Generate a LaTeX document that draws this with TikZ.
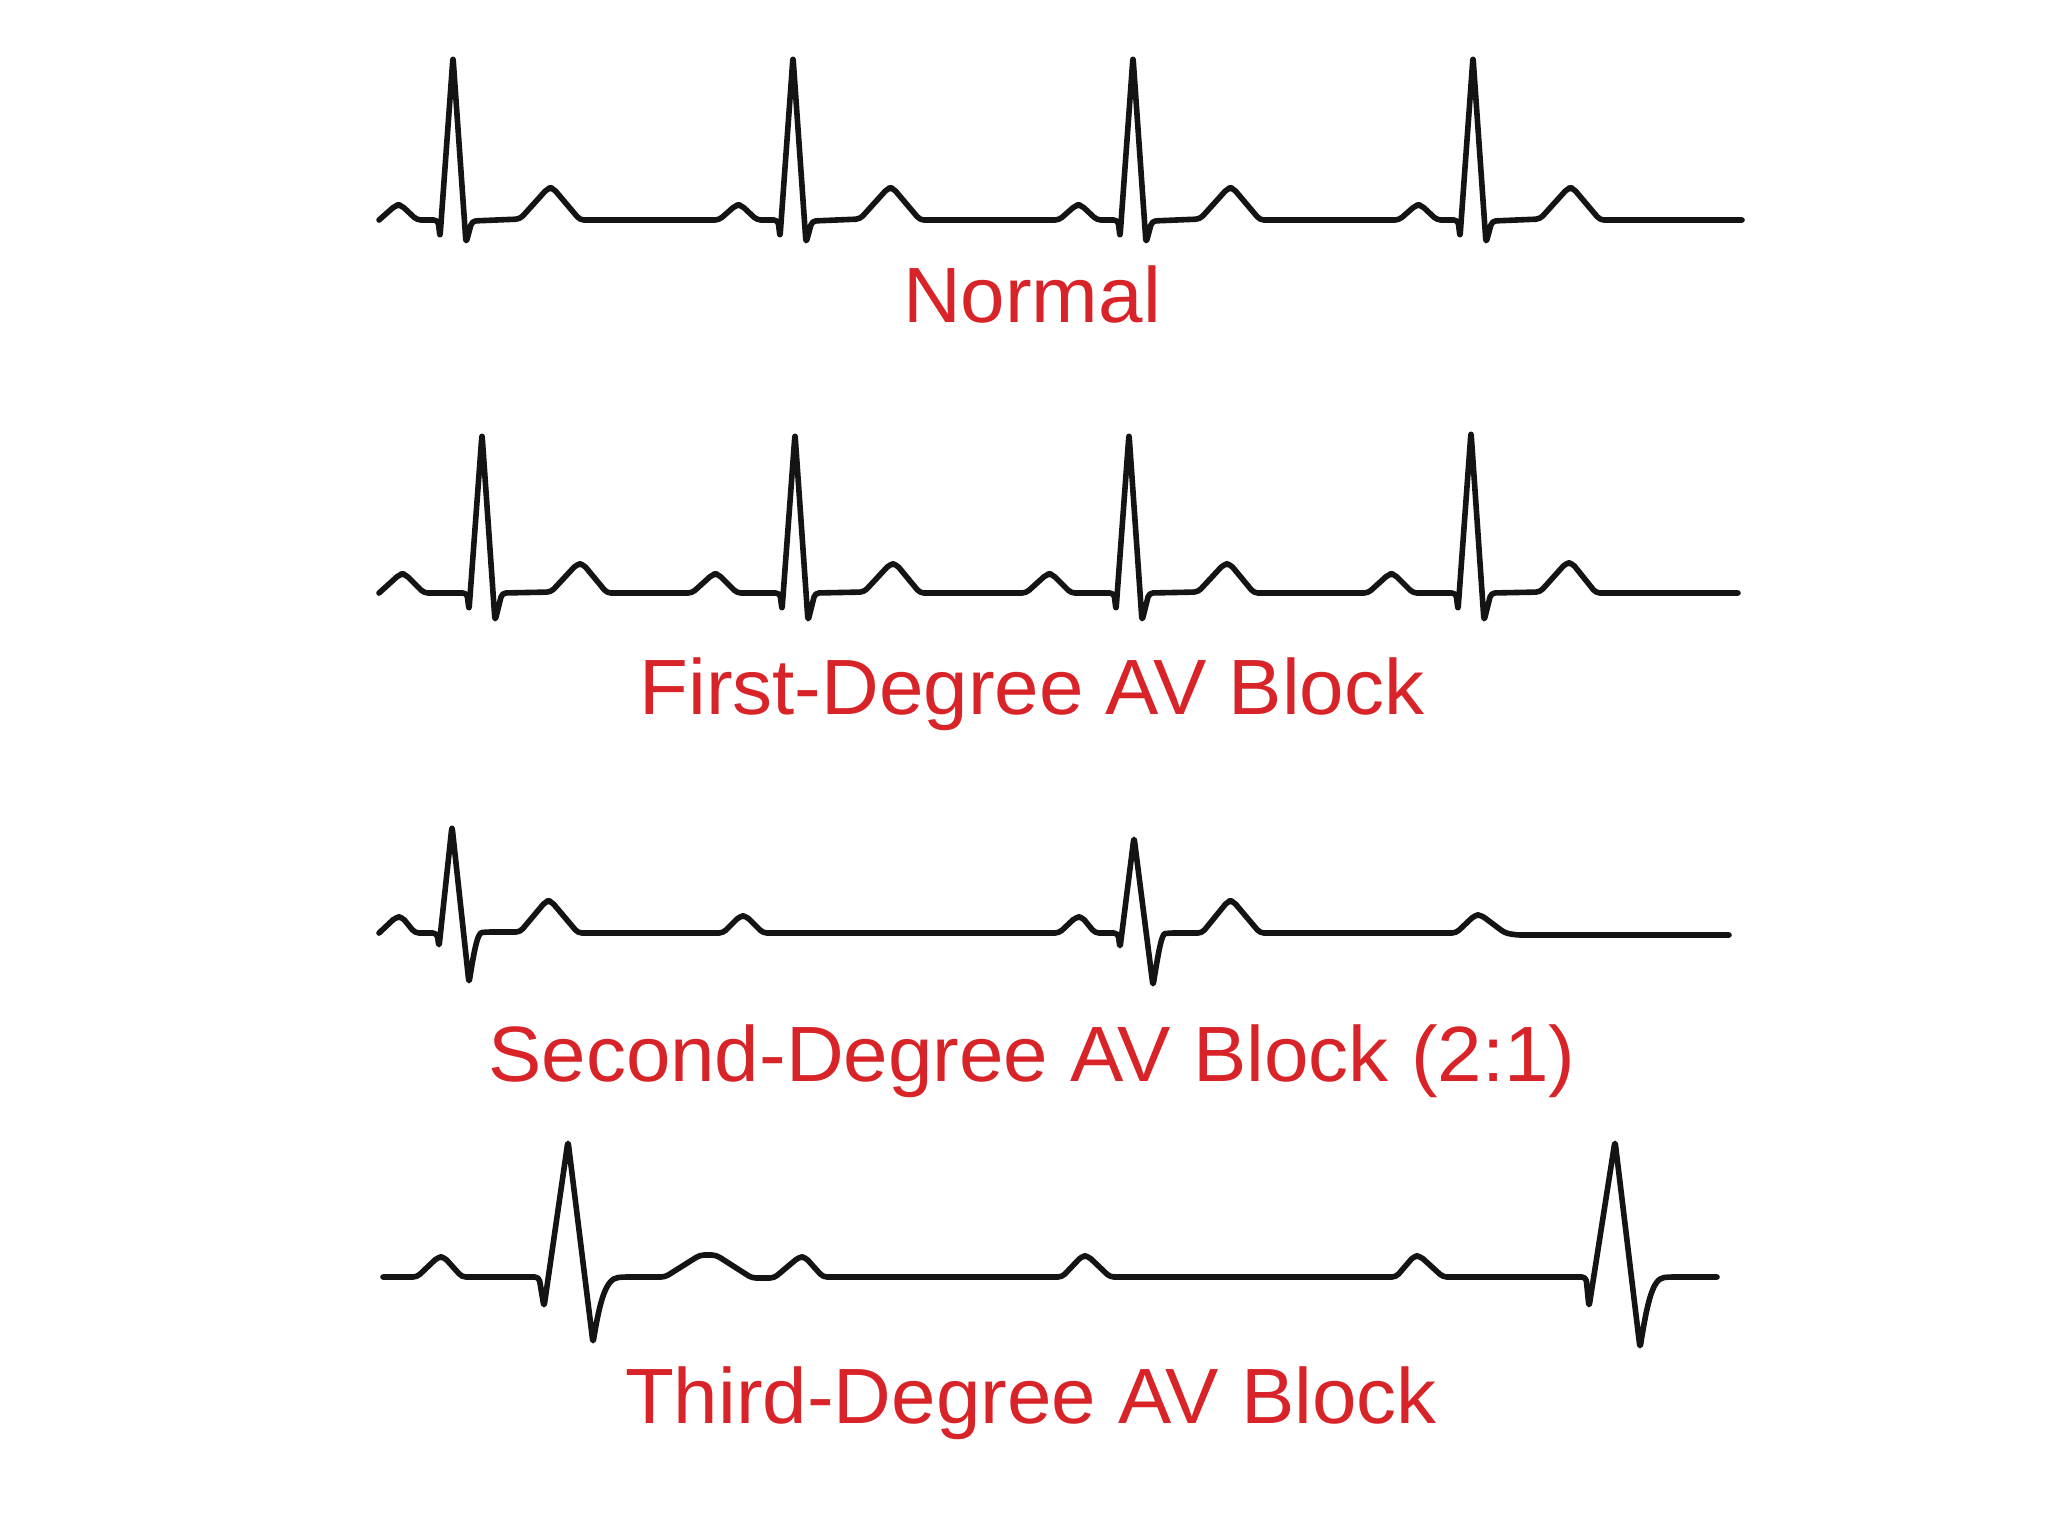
\documentclass[tikz,border=0pt]{standalone}
\usepackage{fontspec}
\setmainfont{Liberation Sans}[FakeStretch=1.02]
\definecolor{ecgred}{RGB}{216,36,40}
\definecolor{ecgink}{RGB}{20,20,20}
\tikzset{
  ecg/.style={draw=ecgink, line width=1.4pt, line join=round, line cap=round, rounded corners=1pt},
  lbl/.style={text=ecgred, anchor=base, inner sep=0pt, font=\fontsize{19.6}{23}\selectfont}
}
\begin{document}
\begin{tikzpicture}[x=0.25pt,y=-0.25pt]
\useasboundingbox[fill=white] (0,0) rectangle (2048,1536);

% Normal
\draw[ecg] (379,220) -- (396,205) -- (401,205) -- (417,220) -- (438,220) -- (440,237) -- (453,57) -- (466,243) -- (472,221) -- (520,219) -- (548,188) -- (553,188) -- (580,220)
 -- (719,220) -- (736,205) -- (741,205) -- (757,220) -- (778,220) -- (780,237) -- (793,57) -- (806,243) -- (812,221) -- (860,219) -- (888,188) -- (893,188) -- (920,220)
 -- (1059,220) -- (1076,205) -- (1081,205) -- (1097,220) -- (1118,220) -- (1120,237) -- (1133,57) -- (1146,243) -- (1152,221) -- (1200,219) -- (1228,188) -- (1233,188) -- (1260,220)
 -- (1399,220) -- (1416,205) -- (1421,205) -- (1437,220) -- (1458,220) -- (1460,237) -- (1473,57) -- (1486,243) -- (1492,221) -- (1540,219) -- (1568,188) -- (1573,188) -- (1600,220)
 -- (1742,220);
\node[lbl] (normal) at (1032,322) {Normal};

% First-degree
\draw[ecg] (379,593) -- (400,574) -- (405,574) -- (424,593) -- (467,593) -- (469,610) -- (482,434) -- (495,621) -- (502,593) -- (551,592) -- (577,564) -- (583,564) -- (607,593)
 -- (692,593) -- (713,574) -- (718,574) -- (737,593) -- (780,593) -- (782,610) -- (795,434) -- (808,621) -- (815,593) -- (864,592) -- (890,564) -- (896,564) -- (920,593)
 -- (1026,593) -- (1047,574) -- (1052,574) -- (1071,593) -- (1114,593) -- (1116,610) -- (1129,434) -- (1142,621) -- (1149,593) -- (1198,592) -- (1224,564) -- (1230,564) -- (1254,593)
 -- (1368,593) -- (1389,574) -- (1394,574) -- (1413,593) -- (1456,593) -- (1458,610) -- (1471,432) -- (1484,621) -- (1491,593) -- (1540,592) -- (1566,563) -- (1572,563) -- (1596,593)
 -- (1738,593);
\node[lbl] (first) at (1032,714) {First-Degree AV Block};

% Second-degree 2:1
\draw[ecg] (379,933) -- (396,917) -- (402,917) -- (415,933) -- (437,933) -- (439,947) -- (452,826) -- (469,983)
 .. controls (475,945) and (478,933) .. (486,932) -- (520,932) -- (546,901) -- (551,901) -- (578,933)
 -- (723,933) -- (740,916) -- (746,916) -- (763,933)
 -- (1059,933) -- (1076,917) -- (1082,917) -- (1095,933) -- (1118,933) -- (1120,948) -- (1134,837) -- (1153,986)
 .. controls (1159,948) and (1162,934) .. (1169,933) -- (1202,933) -- (1228,901) -- (1233,901) -- (1260,933)
 -- (1456,933) -- (1475,915) -- (1481,915) -- (1505,933) -- (1517,935) -- (1729,935);
\node[lbl] (second) at (1032,1081) {Second-Degree AV Block (2:1)};

% Third-degree
\draw[ecg] (383,1277) -- (417,1277) -- (438,1257) -- (444,1257) -- (462,1277) -- (539,1277) -- (544,1307) -- (568,1141) -- (593,1343)
 .. controls (600,1300) and (606,1279) .. (622,1277) -- (665,1277) -- (700,1255) -- (716,1255) -- (752,1278) -- (774,1278)
 -- (799,1257) -- (805,1257) -- (823,1277)
 -- (1062,1277) -- (1082,1256) -- (1088,1256) -- (1110,1277)
 -- (1396,1277) -- (1414,1256) -- (1420,1256) -- (1443,1277)
 -- (1586,1277) -- (1589,1307) -- (1615,1141) -- (1640,1348)
 .. controls (1647,1305) and (1652,1279) .. (1668,1277) -- (1717,1277);
\node[lbl] (third) at (1031,1423) {Third-Degree AV Block};
\end{tikzpicture}
\end{document}
